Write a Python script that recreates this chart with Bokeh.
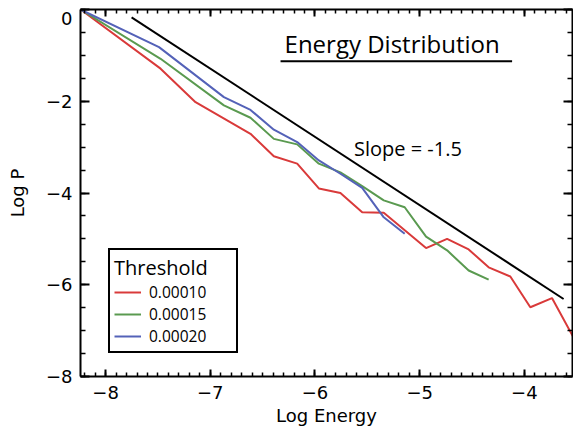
from bokeh.plotting import figure
from bokeh.models import (Range1d, SingleIntervalTicker, LinearAxis, Label,
                          Legend, LegendItem)
from bokeh.embed import file_html
from bokeh.resources import INLINE

# ---- data ----
red_x = [-8.24, -7.475, -7.141, -6.616, -6.393, -6.170, -5.963, -5.757, -5.549,
         -5.343, -4.939, -4.738, -4.532, -4.341, -4.134, -3.943, -3.736, -3.53]
red_y = [0.0, -1.29, -2.02, -2.71, -3.20, -3.36, -3.90, -4.00, -4.42,
         -4.43, -5.20, -5.00, -5.23, -5.62, -5.82, -6.49, -6.29, -7.15]

green_x = [-8.24, -7.475, -6.87, -6.616, -6.393, -6.170, -5.963, -5.757, -5.549,
           -5.343, -5.143, -4.939, -4.738, -4.532, -4.341]
green_y = [0.0, -1.075, -2.09, -2.36, -2.82, -2.94, -3.36, -3.55, -3.85,
           -4.16, -4.31, -4.95, -5.25, -5.69, -5.89]

blue_x = [-8.24, -7.49, -6.87, -6.616, -6.393, -6.170, -5.963, -5.757, -5.549,
          -5.343, -5.143]
blue_y = [0.0, -0.82, -1.91, -2.19, -2.62, -2.89, -3.29, -3.58, -3.89,
          -4.53, -4.89]

slope_x = [-7.752, -3.625]
slope_y = [-0.17, -6.31]

series_labels = ["0.00010", "0.00015", "0.00020"]
x_tick_labels = {-8: "\u22128", -7: "\u22127", -6: "\u22126", -5: "\u22125", -4: "\u22124"}
y_tick_labels = {-8: "\u22128", -6: "\u22126", -4: "\u22124", -2: "\u22122", 0: "\n0"}

TICK_FONT = "DejaVu Sans"
ANN_FONT = "Open Sans"

p = figure(width=573, height=432,
           x_range=Range1d(-8.24, -3.54), y_range=Range1d(-8, 0),
           output_backend="svg", toolbar_location=None,
           min_border_left=80, min_border_right=1, min_border_top=9,
           min_border_bottom=56)
p.grid.visible = False
p.outline_line_color = None
p.background_fill_color = "white"
p.border_fill_color = "white"


def style_axis(ax, major_len, minor_len, labels=True):
    ax.axis_line_width = 2
    ax.axis_line_color = "black"
    ax.major_tick_in = major_len
    ax.major_tick_out = 0
    ax.minor_tick_in = minor_len
    ax.minor_tick_out = 0
    ax.major_tick_line_width = 2
    ax.minor_tick_line_width = 1.5
    ax.major_tick_line_color = "black"
    ax.minor_tick_line_color = "black"
    if labels:
        ax.major_label_text_font = TICK_FONT
        ax.major_label_text_font_size = "18px"
        ax.major_label_text_color = "black"
        ax.axis_label_text_font = TICK_FONT
        ax.axis_label_text_font_size = "18px"
        ax.axis_label_text_font_style = "normal"
        ax.axis_label_text_color = "black"
    else:
        ax.major_label_text_font_size = "0px"
        ax.major_label_standoff = 0
        ax.axis_label_standoff = 0


xa = p.xaxis[0]
xa.ticker = SingleIntervalTicker(interval=1, num_minor_ticks=10)
xa.axis_label = "Log Energy"
xa.major_label_overrides = x_tick_labels
style_axis(xa, 7, 4)
xa.major_label_standoff = 9
xa.axis_label_standoff = 3

ya = p.yaxis[0]
ya.ticker = SingleIntervalTicker(interval=2, num_minor_ticks=4)
ya.axis_label = "Log P"
ya.major_label_overrides = y_tick_labels
style_axis(ya, 9, 5)
ya.major_label_text_line_height = 0.35
ya.major_label_standoff = 8
ya.axis_label_standoff = 15

top = LinearAxis(ticker=SingleIntervalTicker(interval=1, num_minor_ticks=10))
style_axis(top, 7, 4, labels=False)
p.add_layout(top, "above")
right = LinearAxis(ticker=SingleIntervalTicker(interval=2, num_minor_ticks=4))
style_axis(right, 9, 5, labels=False)
p.add_layout(right, "right")

r1 = p.line(red_x, red_y, line_color="#d93a3a", line_width=2)
r2 = p.line(green_x, green_y, line_color="#5a9a50", line_width=2)
r3 = p.line(blue_x, blue_y, line_color="#5462b8", line_width=2)
p.line(slope_x, slope_y, line_color="black", line_width=2)

# title with underline
p.add_layout(Label(x=-5.263, y=-0.75, text="Energy Distribution",
                   text_font=ANN_FONT, text_font_size="24px",
                   text_align="center", text_baseline="middle",
                   text_color="black"))
p.line([-6.329, -4.117], [-1.127, -1.127], line_color="black", line_width=2)

p.add_layout(Label(x=-5.112, y=-3.028, text="Slope = -1.5",
                   text_font=ANN_FONT, text_font_size="20px",
                   text_align="center", text_baseline="middle",
                   text_color="black"))

legend = Legend(items=[LegendItem(label=series_labels[0], renderers=[r1]),
                       LegendItem(label=series_labels[1], renderers=[r2]),
                       LegendItem(label=series_labels[2], renderers=[r3])],
                location=(28, 23), title="Threshold",
                title_text_font=ANN_FONT, title_text_font_size="20px",
                title_text_font_style="normal", title_text_color="black",
                title_standoff=0,
                label_text_font=ANN_FONT, label_text_font_size="15.5px",
                label_text_color="black",
                border_line_color="black", border_line_width=2,
                border_line_alpha=1.0,
                background_fill_color="white", background_fill_alpha=1.0,
                padding=4, spacing=-1, margin=0,
                glyph_width=27, glyph_height=16, label_height=16,
                label_standoff=8, label_width=83)
p.add_layout(legend)

open("out.html", "w").write(file_html(p, INLINE))
